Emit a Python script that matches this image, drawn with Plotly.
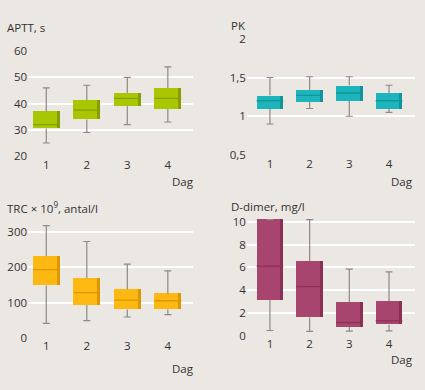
import plotly.graph_objects as go

days = [1, 2, 3, 4]

aptt_lo = [25, 29, 32, 33]
aptt_q1 = [30.5, 34, 39, 38]
aptt_med = [32, 37.5, 42, 42]
aptt_q3 = [37, 41.3, 44, 46]
aptt_hi = [46, 47, 50, 54]

pk_lo = [0.9, 1.1, 1.0, 1.05]
pk_q1 = [1.1, 1.19, 1.2, 1.1]
pk_med = [1.2, 1.27, 1.3, 1.2]
pk_q3 = [1.27, 1.34, 1.4, 1.3]
pk_hi = [1.5, 1.51, 1.51, 1.4]

trc_lo = [41, 49, 59, 66]
trc_q1 = [148, 93, 80, 80]
trc_med = [193, 128, 107, 105]
trc_q3 = [231, 169, 137, 125]
trc_hi = [318, 273, 209, 190]

dd_lo = [0.45, 0.37, 0.4, 0.42]
dd_q1 = [3.15, 1.6, 0.76, 0.96]
dd_med = [6.1, 4.3, 1.15, 1.3]
dd_q3 = [10.2, 6.55, 2.9, 3.05]
dd_hi = [10.2, 10.2, 5.85, 5.6]

panels = [
    dict(lo=aptt_lo, q1=aptt_q1, med=aptt_med, q3=aptt_q3, hi=aptt_hi,
         color="#a9c700", dark="#869f00", title="APTT, s",
         xd=[0.066, 0.454], yd=[0.605, 0.885], xr=[0.55, 4.62], yr=[20, 60],
         tv=[20, 30, 40, 50, 60], tt=["20", "30", "40", "50", "60"],
         tx=5 / 425, ty=1 - 20 / 390, dx=183 / 425, dy=1 - 180 / 390),
    dict(lo=pk_lo, q1=pk_q1, med=pk_med, q3=pk_q3, hi=pk_hi,
         color="#1db4bc", dark="#0f959c", title="PK",
         xd=[0.581, 0.976], yd=[0.608, 0.918], xr=[0.42, 4.65], yr=[0.5, 2],
         tv=[0.5, 1, 1.5, 2], tt=["0,5", "1", "1,5", "2"],
         tx=229 / 425, ty=1 - 18 / 390, dx=402 / 425, dy=1 - 180 / 390),
    dict(lo=trc_lo, q1=trc_q1, med=trc_med, q3=trc_q3, hi=trc_hi,
         color="#fdb812", dark="#dc9600", title="TRC × 10<sup>9</sup>, antal/l",
         xd=[0.066, 0.454], yd=[0.1205, 0.431], xr=[0.55, 4.62], yr=[0, 330],
         tv=[0, 100, 200, 300], tt=["0", "100", "200", "300"],
         tx=5 / 425, ty=1 - 207 / 390, dx=183 / 425, dy=1 - 375 / 390),
    dict(lo=dd_lo, q1=dd_q1, med=dd_med, q3=dd_q3, hi=dd_hi,
         color="#a8456f", dark="#8a3156", title="D-dimer, mg/l",
         xd=[0.581, 0.976], yd=[0.1264, 0.442], xr=[0.42, 4.65], yr=[0, 10.4],
         tv=[0, 2, 4, 6, 8, 10], tt=["0", "2", "4", "6", "8", "10"],
         tx=229 / 425, ty=1 - 206 / 390, dx=402 / 425, dy=1 - 366 / 390),
]

fig = go.Figure()
BW = 0.67
SW = 0.08
annotations = []
font = dict(family="Open Sans, Lato, sans-serif", size=11.5, color="#333333")
WHISK = "#8a8a8a"

for i, p in enumerate(panels):
    n = "" if i == 0 else str(i + 1)
    xa, ya = "x" + n, "y" + n
    # whiskers (outside the box)
    wx, wy = [], []
    for d, lo, q1, q3, hi in zip(days, p["lo"], p["q1"], p["q3"], p["hi"]):
        wx += [d, d, None, d, d, None]
        wy += [lo, q1, None, q3, hi, None]
    fig.add_trace(go.Scatter(x=wx, y=wy, mode="lines", xaxis=xa, yaxis=ya,
                             line=dict(color=WHISK, width=1.2),
                             hoverinfo="skip", showlegend=False))
    # caps
    fig.add_trace(go.Scatter(x=days + days, y=p["lo"] + p["hi"], mode="markers",
                             xaxis=xa, yaxis=ya,
                             marker=dict(symbol="line-ew-open", size=5, color=WHISK,
                                         line=dict(color=WHISK, width=1.2)),
                             hoverinfo="skip", showlegend=False))
    # box
    box_h = [q3 - q1 for q1, q3 in zip(p["q1"], p["q3"])]
    fig.add_trace(go.Bar(x=days, y=box_h, base=p["q1"], width=BW,
                         marker=dict(color=p["color"], line=dict(width=0)),
                         xaxis=xa, yaxis=ya, showlegend=False))
    # darker right strip
    fig.add_trace(go.Bar(x=days, y=box_h, base=p["q1"], width=SW,
                         offset=BW / 2 - SW,
                         marker=dict(color=p["dark"], line=dict(width=0)),
                         xaxis=xa, yaxis=ya, showlegend=False))
    # median
    fig.add_trace(go.Scatter(x=days, y=p["med"], mode="markers", xaxis=xa, yaxis=ya,
                             marker=dict(symbol="line-ew-open", size=19, color=p["dark"],
                                         line=dict(color=p["dark"], width=1.3)),
                             hoverinfo="skip", showlegend=False))

    fig.update_layout(**{
        "xaxis" + n: dict(domain=p["xd"], range=p["xr"], anchor=ya,
                          tickvals=days, ticktext=[str(d) for d in days],
                          showgrid=False, zeroline=False, showline=False,
                          ticks="", tickfont=font, fixedrange=True),
        "yaxis" + n: dict(domain=p["yd"], range=p["yr"], anchor=xa,
                          tickvals=p["tv"], ticktext=p["tt"],
                          showgrid=True, gridcolor="#ffffff", gridwidth=1.5,
                          zeroline=False, showline=False, ticks="",
                          tickfont=font, fixedrange=True),
    })
    annotations.append(dict(text=p["title"], x=p["tx"], y=p["ty"], xref="paper",
                            yref="paper", xanchor="left", yanchor="middle",
                            showarrow=False, font=font))
    annotations.append(dict(text="Dag", x=p["dx"], y=p["dy"], xref="paper",
                            yref="paper", xanchor="center", yanchor="middle",
                            showarrow=False, font=font))

fig.update_layout(
    width=425, height=390,
    margin=dict(l=0, r=0, t=0, b=0),
    paper_bgcolor="#ebe7e3", plot_bgcolor="#ebe7e3",
    barmode="overlay", bargap=0,
    annotations=annotations,
    showlegend=False,
)

fig.write_html("out.html", config={"displayModeBar": False},
               post_script="document.body.style.margin='0';document.body.style.background='#ebe7e3';document.body.style.overflow='hidden';")
